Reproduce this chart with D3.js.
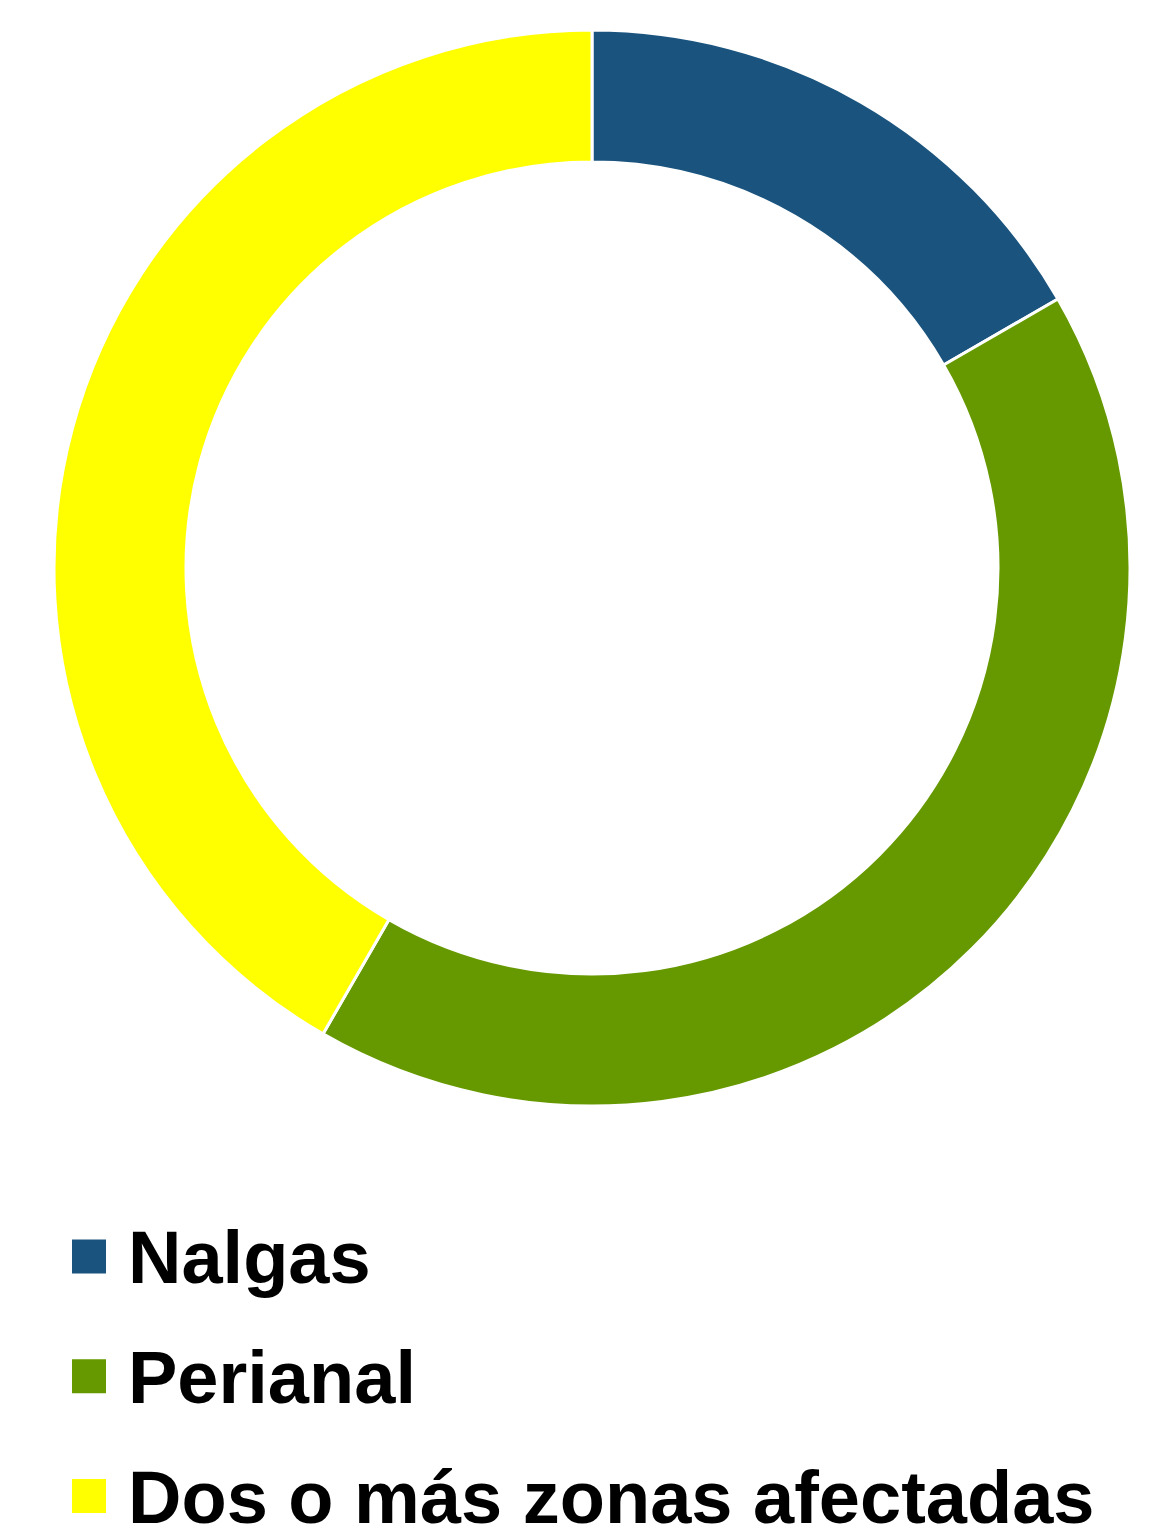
<!DOCTYPE html>
<html lang="es">
<head>
  <meta charset="utf-8">
  <title>Donut</title>
  <script src="https://d3js.org/d3.v7.min.js"></script>
  <style>
    body { margin: 0; background: #fff; }
    svg text { font-family: "Liberation Sans", Arial, sans-serif; font-weight: bold; }
  </style>
</head>
<body>
  <div id="chart"></div>
  <script>
    var categories = ['Nalgas', 'Perianal', 'Dos o más zonas afectadas'];
    var values = [2, 5, 5];
    var colors = ['#1A547E', '#669900', '#FFFF00'];

    var w = 1172, h = 1536;
    var cx = 592, cy = 568;
    var outerR = 538, innerR = 406;

    var svg = d3.select('#chart').append('svg')
      .attr('width', w)
      .attr('height', h);

    var data = categories.map(function(c, i) { return {key: c, value: values[i]}; });

    var color = d3.scaleOrdinal().domain(categories).range(colors);

    var pie = d3.pie().sort(null).value(function(d) { return d.value; });
    var arc = d3.arc().innerRadius(innerR).outerRadius(outerR);

    svg.append('g')
        .attr('transform', 'translate(' + [cx, cy] + ')')
      .selectAll('path')
      .data(pie(data))
      .enter().append('path')
        .attr('d', arc)
        .attr('fill', function(d) { return color(d.data.key); })
        .attr('stroke', '#fff')
        .attr('stroke-width', 3);

    // leyenda
    var legendY = d3.scalePoint().domain(categories).range([1256.5, 1496]);

    var item = svg.selectAll('.legend')
      .data(categories)
      .enter().append('g')
        .attr('class', 'legend')
        .attr('transform', function(d) { return 'translate(' + [72, legendY(d)] + ')'; });

    item.append('rect')
      .attr('x', 0)
      .attr('y', -17)
      .attr('width', 34)
      .attr('height', 34)
      .attr('fill', function(d) { return color(d); });

    item.append('text')
      .attr('x', 56)
      .attr('y', 26.5)
      .attr('font-size', 74)
      .attr('fill', '#000')
      .text(function(d) { return d; });
  </script>
</body>
</html>
